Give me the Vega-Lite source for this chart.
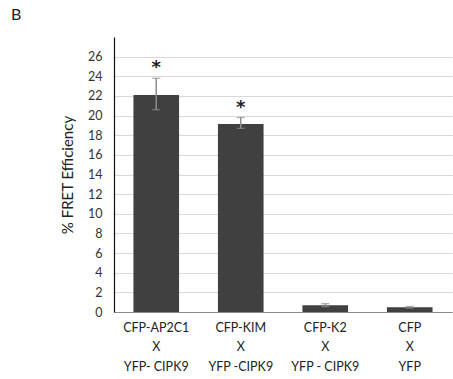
{
  "$schema": "https://vega.github.io/schema/vega-lite/v6.json",
  "width": 338,
  "height": 275,
  "autosize": {"type": "none"},
  "padding": {"left": 114, "top": 37, "right": 1, "bottom": 67},
  "background": "white",
  "config": {"view": {"stroke": null}, "font": "Lato",
    "axisY": {"title": "% FRET Efficiency", "titleFontSize": 15, "titleFontWeight": "normal", "titleColor": "#222", "titlePadding": 12, "titleFont": "Lato",
      "labelOverlap": false, "labelFontSize": 12.5, "labelColor": "#333", "labelPadding": 12, "labelFont": "Lato",
      "ticks": false, "grid": true, "gridColor": "#d9d9d9", "domainColor": "#111", "domainWidth": 1.2}},
  "title": {"text": "B", "anchor": "start", "frame": "group", "dx": -103, "dy": -14, "fontSize": 16, "fontWeight": "normal", "font": "Lato", "color": "#222", "offset": 0},
  "data": {"values": [
    {"label": "CFP-AP2C1|X|YFP- CIPK9", "value": 22.1, "lo": 20.6, "hi": 23.8, "sig": "*"},
    {"label": "CFP-KIM|X|YFP -CIPK9", "value": 19.15, "lo": 18.7, "hi": 19.8, "sig": "*"},
    {"label": "CFP-K2|X|YFP - CIPK9", "value": 0.7, "lo": 0.55, "hi": 0.85, "sig": ""},
    {"label": "CFP|X|YFP", "value": 0.48, "lo": 0.4, "hi": 0.56, "sig": ""}
  ]},
  "encoding": {
    "x": {"field": "label", "type": "nominal", "sort": null,
      "scale": {"paddingInner": 0.46, "paddingOuter": 0.23},
      "axis": {"title": null, "labelAngle": 0, "labelExpr": "split(datum.label, '|')", "labelLineHeight": 19.5, "labelFontSize": 12.5, "labelColor": "#222", "labelPadding": 9, "ticks": false, "domainColor": "#8c8c8c", "labelFont": "Lato"}}
  },
  "layer": [
    {"mark": {"type": "bar", "color": "#404040"},
     "encoding": {"y": {"field": "value", "type": "quantitative",
       "scale": {"domain": [0, 28], "nice": false},
       "axis": {"title": "% FRET Efficiency", "values": [0,2,4,6,8,10,12,14,16,18,20,22,24,26]}}}},
    {"mark": {"type": "rule", "color": "#8c8c8c", "strokeWidth": 1.5},
     "encoding": {"y": {"field": "lo", "type": "quantitative", "axis": {"title": "% FRET Efficiency", "values": [0,2,4,6,8,10,12,14,16,18,20,22,24,26]}}, "y2": {"field": "hi"}}},
    {"mark": {"type": "tick", "color": "#8c8c8c", "size": 8, "thickness": 1.3, "orient": "horizontal"},
     "encoding": {"y": {"field": "hi", "type": "quantitative", "axis": {"title": "% FRET Efficiency", "values": [0,2,4,6,8,10,12,14,16,18,20,22,24,26]}}}},
    {"mark": {"type": "tick", "color": "#8c8c8c", "size": 8, "thickness": 1.3, "orient": "horizontal"},
     "encoding": {"y": {"field": "lo", "type": "quantitative", "axis": {"title": "% FRET Efficiency", "values": [0,2,4,6,8,10,12,14,16,18,20,22,24,26]}}}},
    {"mark": {"type": "text", "fontSize": 18, "fontWeight": "bold", "dy": -1, "baseline": "bottom", "color": "#222", "font": "DejaVu Sans"},
     "encoding": {"y": {"field": "hi", "type": "quantitative", "axis": {"title": "% FRET Efficiency", "values": [0,2,4,6,8,10,12,14,16,18,20,22,24,26]}}, "text": {"field": "sig"}}}
  ]
}
